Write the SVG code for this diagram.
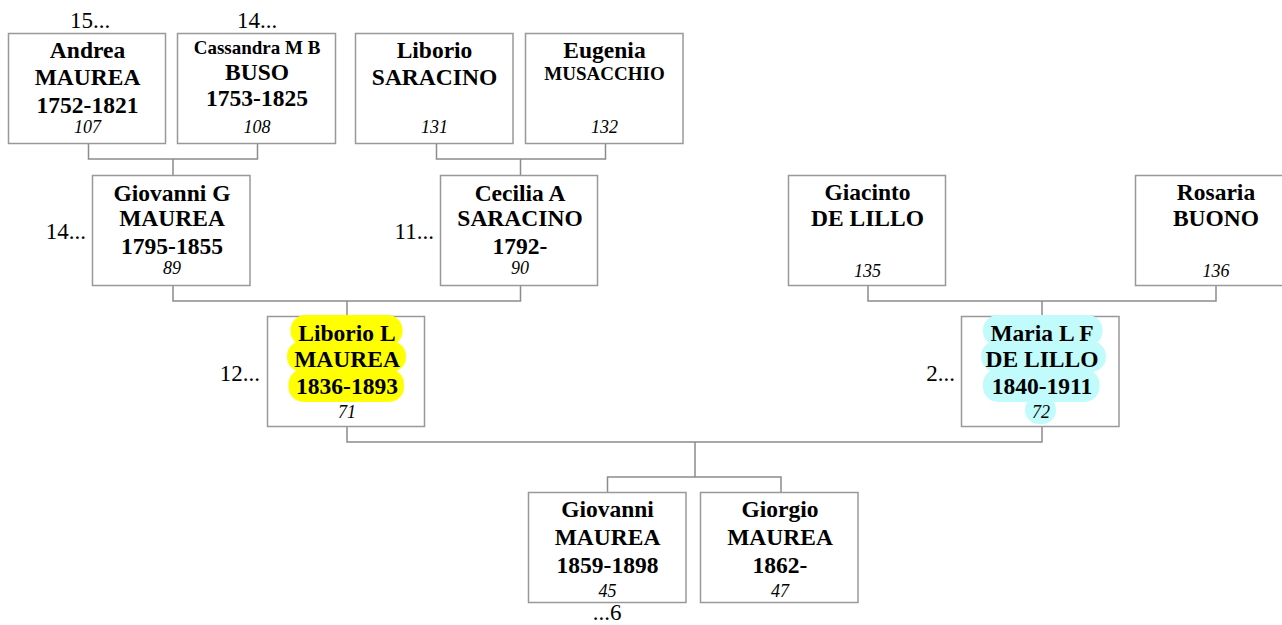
<svg xmlns="http://www.w3.org/2000/svg" width="1282" height="625" viewBox="0 0 1282 625">
<style>
.box{fill:#fff;stroke:#999;stroke-width:1.5}
.con{fill:none;stroke:#8c8c8c;stroke-width:1.5}
.n{font-family:"Liberation Serif","Times New Roman",serif;font-weight:bold;font-size:23.5px;fill:#000;text-anchor:middle}
.s{font-size:19px}
.id{font-family:"Liberation Serif","Times New Roman",serif;font-style:italic;font-size:18px;fill:#000;text-anchor:middle}
.o{font-family:"Liberation Serif","Times New Roman",serif;font-size:23px;fill:#000}
.hy{fill:#ffff00}
.hc{fill:#c2fbfb}
</style>
<rect width="1282" height="625" fill="#fff"/>
<g id="connectors">
<path class="con" d="M88.5 143.5V159H257.5V143.5M173 159V175.5"/>
<path class="con" d="M436.5 143.5V159H605.5V143.5M520.5 159V175.5"/>
<path class="con" d="M173 285.5V301H520.5V285.5M347 301V316.5"/>
<path class="con" d="M868 285.5V301H1216V285.5M1042 301V316.5"/>
<path class="con" d="M347 426.5V442H1042V426.5M695 442V477"/>
<path class="con" d="M607.5 492.5V477H781V492.5"/>
</g>
<g id="n107">
<rect class="box" x="8.5" y="33.5" width="157" height="110"/>
<text class="n" x="87.5" y="57.5">Andrea</text>
<text class="n" x="87.5" y="85">MAUREA</text>
<text class="n" x="87.5" y="112.5">1752-1821</text>
<text class="id" x="87.5" y="133">107</text>
<text class="o" x="90" y="28" text-anchor="middle">15...</text>
</g>
<g id="n108">
<rect class="box" x="177.5" y="33.5" width="158" height="110"/>
<text class="n s" x="257" y="53.5">Cassandra M B</text>
<text class="n" x="257" y="79.5">BUSO</text>
<text class="n" x="257" y="106">1753-1825</text>
<text class="id" x="257" y="133">108</text>
<text class="o" x="257" y="28" text-anchor="middle">14...</text>
</g>
<g id="n131">
<rect class="box" x="355.5" y="33.5" width="157.5" height="110"/>
<text class="n" x="434.5" y="57.5">Liborio</text>
<text class="n" x="434.5" y="84.5">SARACINO</text>
<text class="id" x="434.5" y="133">131</text>
</g>
<g id="n132">
<rect class="box" x="525.5" y="33.5" width="157.5" height="110"/>
<text class="n" x="604.5" y="57.5">Eugenia</text>
<text class="n s" x="604.5" y="80">MUSACCHIO</text>
<text class="id" x="604.5" y="133">132</text>
</g>
<g id="n89">
<rect class="box" x="92.5" y="175.5" width="157.5" height="110"/>
<text class="n" x="172" y="200.5">Giovanni G</text>
<text class="n" x="172" y="226">MAUREA</text>
<text class="n" x="172" y="253.5">1795-1855</text>
<text class="id" x="172" y="273.5">89</text>
<text class="o" x="86" y="239" text-anchor="end">14...</text>
</g>
<g id="n90">
<rect class="box" x="440.5" y="175.5" width="157" height="110"/>
<text class="n" x="520" y="200.5">Cecilia A</text>
<text class="n" x="520" y="226">SARACINO</text>
<text class="n" x="520" y="253.5">1792-</text>
<text class="id" x="520" y="273.5">90</text>
<text class="o" x="434" y="239" text-anchor="end">11...</text>
</g>
<g id="n135">
<rect class="box" x="788.5" y="175.5" width="157" height="110"/>
<text class="n" x="867.5" y="199.5">Giacinto</text>
<text class="n" x="867.5" y="226">DE LILLO</text>
<text class="id" x="867.5" y="276.5">135</text>
</g>
<g id="n136">
<rect class="box" x="1135.5" y="175.5" width="160" height="110"/>
<text class="n" x="1216" y="199.5">Rosaria</text>
<text class="n" x="1216" y="226">BUONO</text>
<text class="id" x="1216" y="276.5">136</text>
</g>
<g id="n71">
<rect class="box" x="267.5" y="316.5" width="157" height="110"/>
<rect class="hy" x="290.5" y="315" width="112" height="31" rx="15"/>
<rect class="hy" x="287" y="341" width="119" height="31" rx="15"/>
<rect class="hy" x="288.5" y="369" width="115.5" height="33" rx="15"/>
<text class="n" x="347" y="341">Liborio L</text>
<text class="n" x="347" y="367">MAUREA</text>
<text class="n" x="347" y="394">1836-1893</text>
<text class="id" x="347" y="418">71</text>
<text class="o" x="260" y="381" text-anchor="end">12...</text>
</g>
<g id="n72">
<rect class="box" x="961.5" y="316.5" width="157.5" height="110"/>
<rect class="hc" x="983" y="315" width="119.5" height="31" rx="15"/>
<rect class="hc" x="981" y="341" width="125" height="31" rx="15"/>
<rect class="hc" x="983" y="369" width="116.5" height="33" rx="15"/>
<rect class="hc" x="1025" y="396" width="31" height="28" rx="14"/>
<text class="n" x="1042" y="341">Maria L F</text>
<text class="n" x="1042" y="367">DE LILLO</text>
<text class="n" x="1042" y="394">1840-1911</text>
<text class="id" x="1041" y="418">72</text>
<text class="o" x="955" y="381" text-anchor="end">2...</text>
</g>
<g id="n45">
<rect class="box" x="528.5" y="492.5" width="157.5" height="110"/>
<text class="n" x="607.5" y="517">Giovanni</text>
<text class="n" x="607.5" y="545">MAUREA</text>
<text class="n" x="607.5" y="572.5">1859-1898</text>
<text class="id" x="607.5" y="596.5">45</text>
<text class="o" x="607" y="620" text-anchor="middle">...6</text>
</g>
<g id="n47">
<rect class="box" x="700.5" y="492.5" width="157.5" height="110"/>
<text class="n" x="780" y="517">Giorgio</text>
<text class="n" x="780" y="545">MAUREA</text>
<text class="n" x="780" y="572.5">1862-</text>
<text class="id" x="780" y="596.5">47</text>
</g>
</svg>
